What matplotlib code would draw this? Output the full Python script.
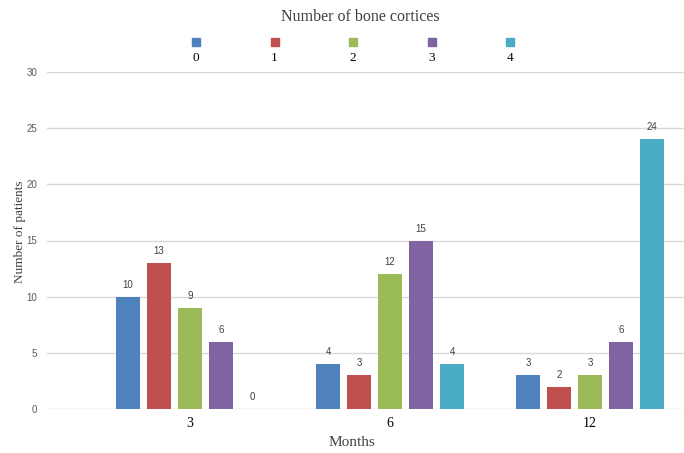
import matplotlib.pyplot as plt
from matplotlib.patches import Rectangle
import numpy as np

# Datos
months = ['3', '6', '12']
cortices = ['0', '1', '2', '3', '4']
counts = [
    [10, 4, 3],   # 0 corticales
    [13, 3, 2],   # 1
    [9, 12, 3],   # 2
    [6, 15, 6],   # 3
    [0, 4, 24],   # 4
]
colors = ['#4F81BD', '#C0504D', '#9BBB59', '#8064A2', '#4BACC6']
yticks = [0, 5, 10, 15, 20, 25, 30]

W, H = 684, 453
fig = plt.figure(figsize=(W / 100, H / 100), dpi=100)
ax = fig.add_axes([47 / W, (H - 409) / H, (684 - 47) / W, (409 - 72) / H])

x = np.arange(len(months))
step = 0.155
width = 0.12
for i, vals in enumerate(counts):
    pos = x + (i - 2) * step
    bars = ax.bar(pos, vals, width, color=colors[i], zorder=3)
    for b, v in zip(bars, vals):
        ax.annotate(str(v), (b.get_x() + b.get_width() / 2, v),
                    xytext=(0, 5), textcoords='offset points',
                    ha='center', va='bottom', fontsize=7,
                    color='#404040', family='Liberation Sans')

ax.set_xlim(-0.715, 2.47)
ax.set_ylim(0, 30)
ax.set_yticks(yticks)
ax.yaxis.grid(True, color='#D9D9D9', linewidth=1, zorder=0)
for s in ax.spines.values():
    s.set_visible(False)
ax.tick_params(axis='both', length=0)
ax.tick_params(axis='y', labelsize=7, labelcolor='#595959', pad=7)
ax.set_xticks(x)
ax.set_xticklabels(months, fontsize=10, family='Liberation Serif')
ax.tick_params(axis='x', pad=6)
for lbl in ax.get_yticklabels():
    lbl.set_family('Liberation Sans')

fig.text(352 / W, 1 - 443 / H, 'Months', ha='center', va='center',
         fontsize=11, family='Liberation Serif', color='#404040')
fig.text(20 / W, 1 - 232 / H, 'Number of patients', rotation=90,
         ha='center', va='center', fontsize=9.5,
         family='Liberation Serif', color='#404040')
fig.text(360 / W, 1 - 17 / H, 'Number of bone cortices', ha='center',
         va='center', fontsize=11.5, family='Liberation Serif', color='#404040')

# Leyenda: cuadrado arriba, etiqueta abajo
for i, (lab, c) in enumerate(zip(cortices, colors)):
    cx = 196 + i * 78.5
    fig.patches.append(Rectangle(((cx - 4) / W, 1 - 46 / H), 8 / W, 8 / H,
                                 transform=fig.transFigure, color=c))
    fig.text(cx / W, 1 - 58 / H, lab, ha='center', va='center',
             fontsize=9.5, family='Liberation Serif')

fig.savefig('out.png', dpi=100)
